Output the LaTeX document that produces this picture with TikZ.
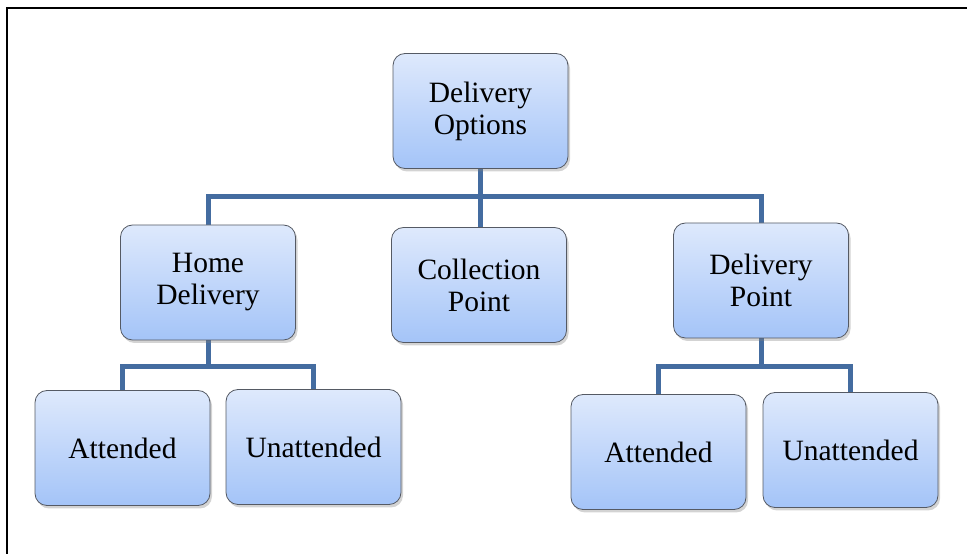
\documentclass[tikz,border=0pt]{standalone}
\usepackage{fontspec}
\setmainfont{Liberation Serif}
\usetikzlibrary{shadows}
\pgfdeclarelayer{background}
\pgfsetlayers{background,main}
\definecolor{boxtop}{RGB}{222,233,252}
\definecolor{boxbot}{RGB}{164,196,248}
\definecolor{boxline}{RGB}{85,90,100}
\definecolor{connc}{RGB}{68,108,160}
\tikzset{
  orgbox/.style={draw=boxline, line width=0.8pt, rounded corners=12pt,
    top color=boxtop, bottom color=boxbot,
    drop shadow={shadow xshift=2pt, shadow yshift=-3pt, opacity=0.35},
    minimum width=175pt, minimum height=115pt, align=center,
    font=\fontsize{29.5pt}{32pt}\selectfont, inner sep=0pt},
  conn/.style={draw=connc, line width=5pt}
}
\begin{document}
\begin{tikzpicture}[x=1pt,y=1pt]
\useasboundingbox (0,0) rectangle (967,554);
\draw[line width=2pt] (7,-5) -- (7,546) -- (975,546);
\node[orgbox] (DO) at (480.5,443) {Delivery\\Options};
\node[orgbox] (HD) at (208,271.5) {Home\\Delivery};
\node[orgbox] (CP) at (479,269) {Collection\\Point};
\node[orgbox] (DP) at (761,273.5) {Delivery\\Point};
\node[orgbox] (A1) at (122.5,106) {Attended};
\node[orgbox] (U1) at (313.5,107) {Unattended};
\node[orgbox] (A2) at (658.5,102) {Attended};
\node[orgbox] (U2) at (850.5,104) {Unattended};
\coordinate (b1) at (480.5,357.5);
\coordinate (b2) at (208,187);
\coordinate (b3) at (761,187);
\begin{pgfonlayer}{background}
\draw[conn] (DO.south) -- (DO.south |- CP.north);
\draw[conn] (HD.north) |- (b1) -| (DP.north);
\draw[conn] (HD.south) -- (b2);
\draw[conn] (A1.north) |- (b2) -| (U1.north);
\draw[conn] (DP.south) -- (b3);
\draw[conn] (A2.north) |- (b3) -| (U2.north);
\end{pgfonlayer}
\end{tikzpicture}
\end{document}
